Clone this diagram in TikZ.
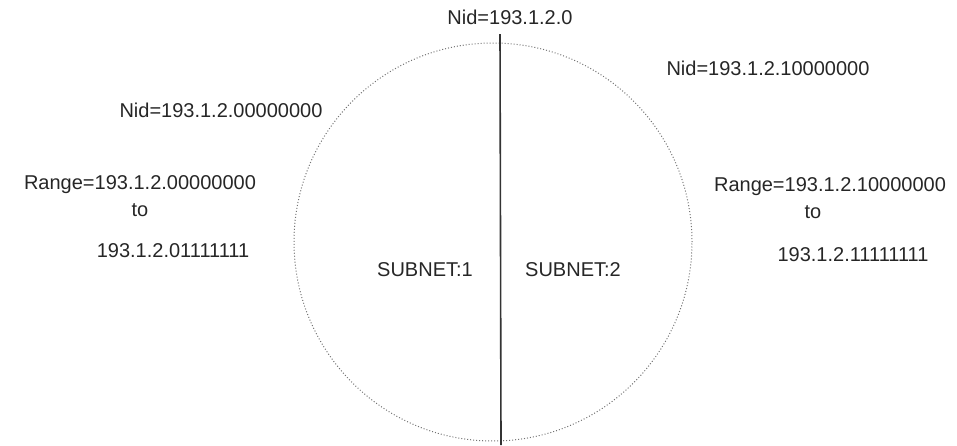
\documentclass[tikz,border=0pt]{standalone}
\usepackage{fontspec}
\setmainfont{Liberation Sans}
\usetikzlibrary{positioning}

\begin{document}
\begin{tikzpicture}[x=0.5pt,y=-0.5pt,node distance=12.5pt,
  lbl/.style={text=black!85,font=\fontsize{10pt}{12pt}\selectfont,inner sep=0pt},
  ring/.style={circle,draw=black!55,densely dotted,line width=0.5pt,minimum size=199pt,inner sep=0pt},
  split/.style={draw=black!80,line width=0.8pt}]
  \useasboundingbox (0,0) rectangle (957,445);

  \node[ring] (net) at (493,242) {};
  \coordinate (top) at (500,34);
  \coordinate (bot) at (501,445);
  \draw[split] (top) -- (bot);

  \node[lbl] (nid) at (510,17) {Nid=193.1.2.0};
  \node[lbl] (nid1) at (221,110) {Nid=193.1.2.00000000};
  \node[lbl] (nid2) at (768,68) {Nid=193.1.2.10000000};

  \node[lbl] (r1) at (140,185) {Range=193.1.2.00000000};
  \node[lbl] (to1) [below of=r1] {to};
  \node[lbl] (e1) at (173,251) {193.1.2.01111111};

  \node[lbl] (r2) at (830,187) {Range=193.1.2.10000000};
  \node[lbl] (to2) at (813,212) {to};
  \node[lbl] (e2) at (853,255) {193.1.2.11111111};

  \node[lbl] (s1) at (425,270) {SUBNET:1};
  \node[lbl] (s2) at (573,270) {SUBNET:2};
\end{tikzpicture}
\end{document}
